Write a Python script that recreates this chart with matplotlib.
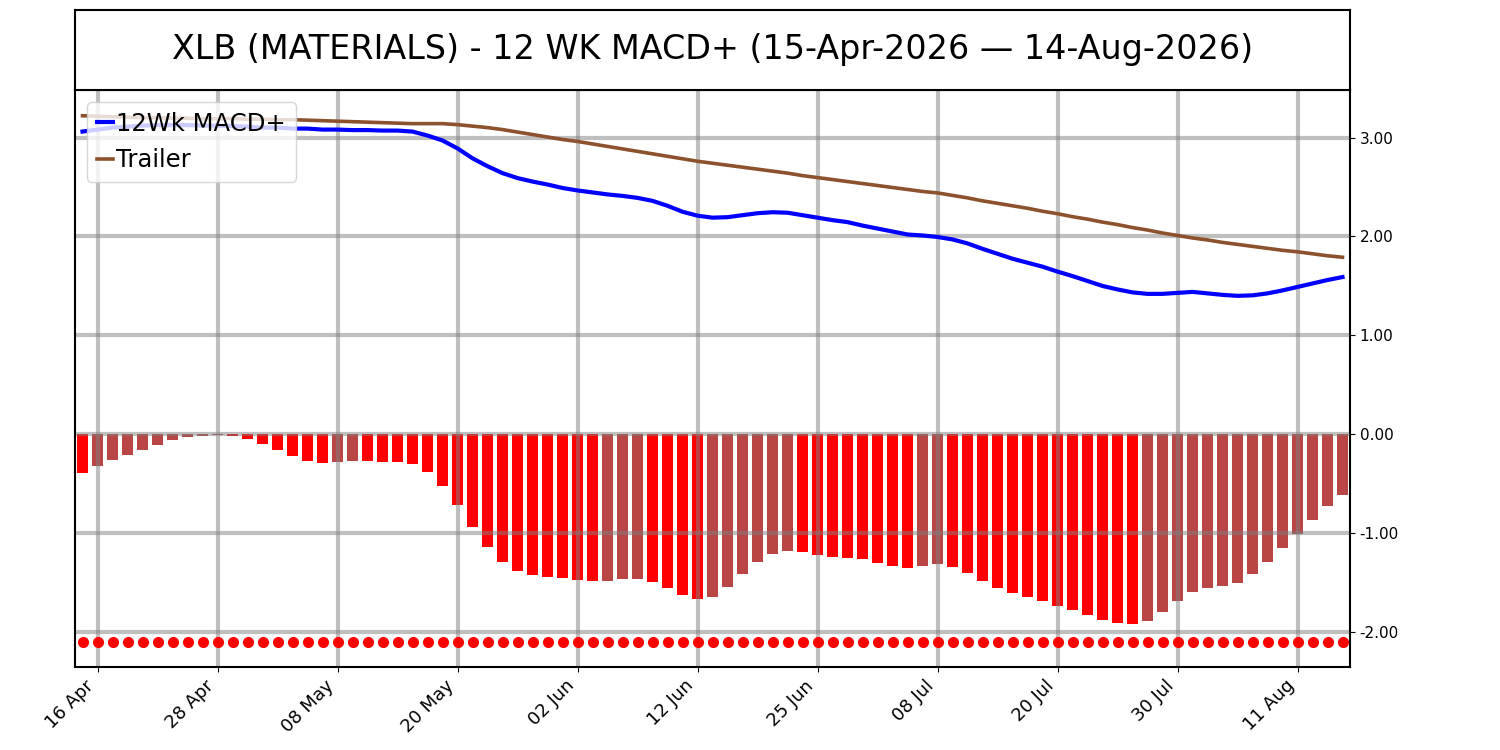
import matplotlib
matplotlib.use("Agg")
import matplotlib.pyplot as plt
import numpy as np

title = "XLB (MATERIALS) - 12 WK MACD+ (15-Apr-2026 \u2014 14-Aug-2026)"

tick_labels = ["16 Apr", "28 Apr", "08 May", "20 May", "02 Jun", "12 Jun",
               "25 Jun", "08 Jul", "20 Jul", "30 Jul", "11 Aug"]

macd = [3.06, 3.08, 3.10, 3.11, 3.12, 3.125, 3.125, 3.125, 3.12, 3.12,
        3.115, 3.11, 3.10, 3.10, 3.09, 3.09, 3.08, 3.08, 3.075, 3.075,
        3.07, 3.07, 3.06, 3.02, 2.97, 2.89, 2.79, 2.71, 2.64, 2.59,
        2.555, 2.525, 2.49, 2.465, 2.445, 2.425, 2.41, 2.39, 2.36, 2.31,
        2.25, 2.21, 2.19, 2.195, 2.215, 2.235, 2.245, 2.24, 2.215, 2.19,
        2.165, 2.145, 2.11, 2.08, 2.05, 2.02, 2.01, 1.995, 1.97, 1.93,
        1.875, 1.825, 1.775, 1.735, 1.695, 1.645, 1.60, 1.55, 1.50, 1.465,
        1.435, 1.42, 1.42, 1.43, 1.44, 1.425, 1.41, 1.40, 1.405, 1.425,
        1.455, 1.49, 1.525, 1.56, 1.59]

trailer = [3.22, 3.215, 3.21, 3.205, 3.20, 3.20, 3.195, 3.195, 3.19, 3.19,
           3.19, 3.185, 3.185, 3.18, 3.18, 3.175, 3.17, 3.165, 3.16, 3.155,
           3.15, 3.145, 3.14, 3.14, 3.14, 3.13, 3.115, 3.10, 3.08, 3.055,
           3.03, 3.005, 2.98, 2.96, 2.935, 2.91, 2.885, 2.86, 2.835, 2.81,
           2.785, 2.76, 2.74, 2.72, 2.70, 2.68, 2.66, 2.64, 2.615, 2.595,
           2.575, 2.555, 2.535, 2.515, 2.495, 2.475, 2.455, 2.44, 2.415, 2.39,
           2.36, 2.335, 2.31, 2.285, 2.255, 2.23, 2.20, 2.175, 2.145, 2.12,
           2.09, 2.065, 2.035, 2.01, 1.985, 1.965, 1.94, 1.92, 1.90, 1.88,
           1.86, 1.845, 1.825, 1.805, 1.79]

hist = [-0.394, -0.317, -0.256, -0.206, -0.155, -0.105, -0.055, -0.024, -0.013, -0.007,
        -0.016, -0.044, -0.095, -0.155, -0.216, -0.267, -0.287, -0.277, -0.267, -0.270,
        -0.277, -0.279, -0.297, -0.378, -0.519, -0.711, -0.933, -1.135, -1.287, -1.378,
        -1.418, -1.438, -1.448, -1.469, -1.479, -1.477, -1.458, -1.457, -1.489, -1.549,
        -1.620, -1.661, -1.640, -1.539, -1.408, -1.287, -1.206, -1.176, -1.186, -1.216,
        -1.236, -1.246, -1.256, -1.297, -1.327, -1.347, -1.327, -1.307, -1.337, -1.398,
        -1.479, -1.549, -1.600, -1.640, -1.681, -1.731, -1.772, -1.822, -1.873, -1.903,
        -1.913, -1.883, -1.792, -1.681, -1.590, -1.549, -1.529, -1.499, -1.408, -1.287,
        -1.145, -1.004, -0.863, -0.721, -0.610]

signal_level = -2.1

x = np.arange(len(hist))
h = np.array(hist)
# red when the histogram grows in size, muted red when it shrinks
grow = np.concatenate([[True], np.abs(h[1:]) > np.abs(h[:-1])])
bar_colors = np.where(grow, "#ff0000", "#ba4545")

fig = plt.figure(figsize=(15, 7.5), dpi=100)
ax = fig.add_axes([0.05, 0.1107, 0.85, 0.7693])
tax = fig.add_axes([0.05, 0.88, 0.85, 0.1067])

tax.set_xticks([])
tax.set_yticks([])
tax.text(0.5, 0.5, title, ha="center", va="center", fontsize=24, transform=tax.transAxes)
for s in tax.spines.values():
    s.set_linewidth(1.5)

ax.bar(x, hist, width=0.7, color=bar_colors)
ax.plot(x, macd, color="#0000ff", linewidth=3, label="12Wk MACD+")
ax.plot(x, trailer, color="#8c522d", linewidth=2.6, label="Trailer")
ax.plot(x, [signal_level] * len(x), "o", color="red", markersize=7, linestyle="none")

ax.set_xlim(-0.5, len(x) - 0.5)
ax.set_ylim(-2.35, 3.48)
ax.set_xticks(x[1::8])
ax.set_xticklabels(tick_labels, rotation=45, ha="right", fontsize=13)
ax.set_yticks([-2, -1, 0, 1, 2, 3])
ax.set_yticklabels(["%.2f" % v for v in [-2, -1, 0, 1, 2, 3]], fontsize=11)
ax.yaxis.tick_right()
ax.grid(True, color="grey", alpha=0.5, linewidth=3)
for s in ax.spines.values():
    s.set_linewidth(1.5)

ax.legend(loc="upper left", fontsize=17.5, handlelength=0.65, handletextpad=0.15)

fig.savefig("out.png", dpi=100)
